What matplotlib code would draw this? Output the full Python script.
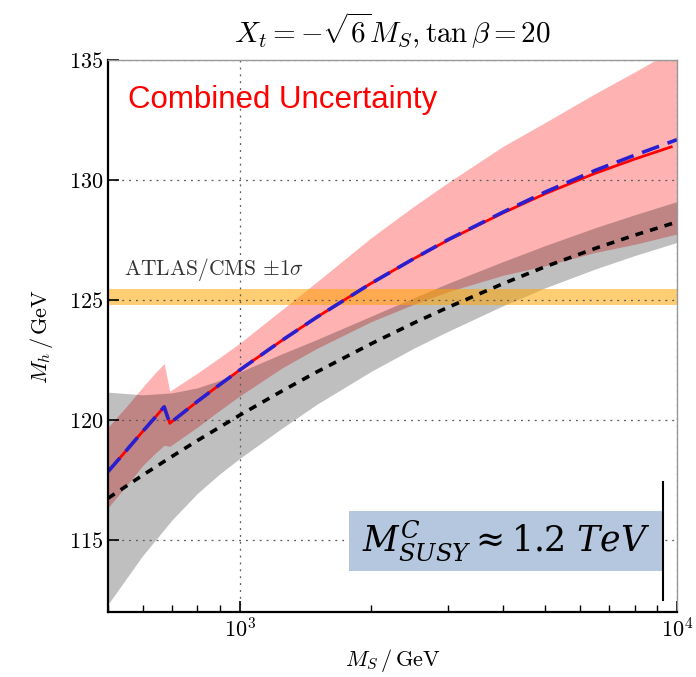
import matplotlib
matplotlib.use("Agg")
import matplotlib.pyplot as plt
from matplotlib.patches import Rectangle

plt.rcParams['font.family'] = 'serif'
plt.rcParams['font.serif'] = ['cmr10']
plt.rcParams['mathtext.fontset'] = 'cm'
plt.rcParams['axes.formatter.use_mathtext'] = True

# central prediction with combined uncertainty (red band)
ms = [500, 550, 600, 640, 672, 692, 800, 900, 1000, 1250, 1500, 2000, 2500,
      3000, 4000, 5000, 6500, 8000, 10000]
mh_red = [117.85, 118.72, 119.52, 120.10, 120.55, 119.86, 120.77, 121.47, 122.08,
          123.32, 124.28, 125.70, 126.72, 127.50, 128.63, 129.43, 130.28, 130.87, 131.45]
mh_blue = [117.85, 118.72, 119.52, 120.10, 120.55, 119.86, 120.77, 121.47, 122.08,
           123.32, 124.28, 125.70, 126.72, 127.52, 128.66, 129.50, 130.40, 131.03, 131.68]
red_hi = [119.70, 120.55, 121.37, 121.95, 122.35, 121.20, 121.95, 122.60, 123.20,
          124.60, 125.75, 127.60, 128.90, 129.90, 131.40, 132.40, 133.60, 134.50, 135.50]
red_lo = [116.35, 117.25, 118.10, 118.60, 118.95, 118.90, 119.70, 120.40, 121.00,
          122.17, 122.98, 124.10, 124.82, 125.35, 126.03, 126.43, 126.98, 127.32, 127.75]

# reference calculation (black dotted) with its band
ms_ref = [500, 600, 700, 800, 900, 1000, 1250, 1500, 2000, 2500, 3000, 4000, 5000,
          6500, 8000, 10000]
mh_ref = [116.74, 117.70, 118.48, 119.14, 119.70, 120.20, 121.21, 122.00, 123.18,
          124.04, 124.70, 125.68, 126.39, 127.15, 127.70, 128.25]
ref_hi = [121.16, 121.05, 121.13, 121.34, 121.65, 122.00, 122.76, 123.35, 124.33,
          125.09, 125.70, 126.60, 127.27, 128.01, 128.55, 129.10]
ref_lo = [112.32, 114.35, 115.83, 116.94, 117.75, 118.40, 119.66, 120.65, 122.03,
          122.99, 123.70, 124.76, 125.51, 126.29, 126.85, 127.40]

# measured Higgs mass band
mh_exp_lo = 124.8
mh_exp_hi = 125.45

fig = plt.figure(figsize=(6.96, 6.77), dpi=100)
ax = fig.add_axes([0.1552, 0.0960, 0.8175, 0.8154])

ax.fill_between(ms, red_lo, red_hi, color='red', alpha=0.3, lw=0)
ax.fill_between(ms_ref, ref_lo, ref_hi, color='black', alpha=0.25, lw=0)
ax.axhspan(mh_exp_lo, mh_exp_hi, color='orange', alpha=0.55, lw=0)

ax.plot(ms[:-1] + [9700], mh_red[:-1] + [131.38], color='red', lw=2.0)
ax.plot(ms, mh_blue, color='#2a1fd0', lw=2.6, dashes=(5, 2.5))
ax.plot(ms_ref, mh_ref, color='black', lw=2.6, dashes=(2.2, 2.0))

ax.set_xscale('log')
ax.set_xlim(500, 10000)
ax.set_ylim(112, 135)
ax.set_yticks([115, 120, 125, 130, 135])

ax.grid(True, which='major', linestyle=(0, (1.5, 4)), color='0.35', lw=0.9)
ax.tick_params(which='both', direction='in', top=False, right=False, labelsize=16)
ax.tick_params(which='major', length=8, width=1.2)
ax.tick_params(which='minor', length=5, width=1.0)

for s in ['left', 'bottom']:
    ax.spines[s].set_linewidth(1.6)
for s in ['top', 'right']:
    ax.spines[s].set_color('0.6')
    ax.spines[s].set_linewidth(1.0)

ax.set_xlabel(r'$M_S\,/\,\mathrm{GeV}$', fontsize=16, labelpad=4)
ax.set_ylabel(r'$M_h\,/\,\mathrm{GeV}$', fontsize=16, labelpad=10)
ax.set_title(r'$X_t = -\sqrt{6}M_S, \tan\beta = 20$', fontsize=21, pad=12)

ax.text(0.035, 0.928, 'Combined Uncertainty', transform=ax.transAxes, color='red',
        fontsize=22.5, family='Liberation Sans', va='center', ha='left')
ax.text(545, 126.25, r'ATLAS/CMS $\pm1\sigma$', fontsize=15.5, color='0.2', va='center')

ax.add_patch(Rectangle((0.4236, 0.0743), 0.5518, 0.1087, transform=ax.transAxes,
                       facecolor='#b4c7de', edgecolor='none', zorder=5))
ax.text(0.6995, 0.1287, r'$M^{C}_{SUSY} \approx 1.2\ TeV$', transform=ax.transAxes,
        fontsize=25, ha='center', va='center', math_fontfamily='dejavuserif', zorder=6)
ax.plot([0.975, 0.975], [0.022, 0.236], transform=ax.transAxes, color='black',
        lw=1.5, zorder=6)

fig.savefig('out.png', dpi=100)
